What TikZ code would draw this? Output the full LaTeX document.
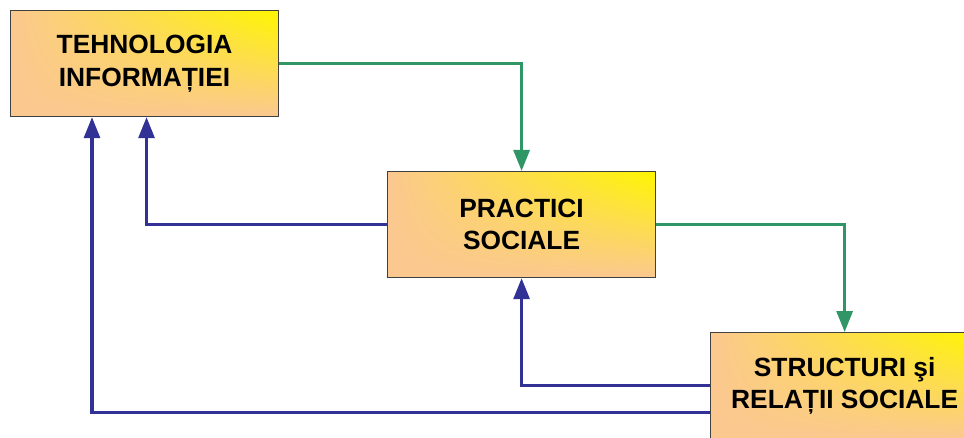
\documentclass[tikz,border=0pt]{standalone}
\usepackage{fontspec}
\setmainfont{Liberation Sans}
\usepackage{tikz}
\usetikzlibrary{positioning}
\usetikzlibrary{arrows.meta, shadings}
\definecolor{boxorange}{RGB}{251,200,144}
\definecolor{boxyellow}{RGB}{255,246,0}
\definecolor{flowgreen}{RGB}{48,150,102}
\definecolor{backblue}{RGB}{50,50,150}

\begin{document}
\begin{tikzpicture}[
        box/.style={draw=black!75, line width=0.6pt, upper right=boxyellow, upper left=boxorange,
                    lower left=boxorange, lower right=boxorange, minimum width=5.36cm,
                    minimum height=2.12cm, align=center, inner sep=0pt,
                    font=\fontsize{15}{18.5}\selectfont\bfseries},
        fwd/.style={draw=flowgreen, line width=2pt, -{Triangle[width=9pt,length=12pt]}},
        bck/.style={draw=backblue, line width=2pt, -{Triangle[width=9pt,length=12pt]}}]
                \clip (0,0) rectangle (19.28,-8.74);
                \node[box, anchor=north west] (tech) at (0.2,-0.2) {TEHNOLOGIA\\INFORMAȚIEI};
                \node[box, below right=1.08cm and 2.16cm of tech] (prac) {PRACTICI\\SOCIALE};
                \node[box, below right=1.08cm and 1.08cm of prac] (struct) {STRUCTURI şi\\RELAȚII SOCIALE};
                \draw[fwd] (tech.east) -| (prac.north);
                \draw[fwd] (prac.east) -| (struct.north);
                \draw[bck] (prac.west) -| ([xshift=0.04cm]tech.south);
                \draw[bck] (struct.west) -| (prac.south);
                %\draw[bck] (struct.south west) -| (tech.south west);
                \draw[bck] ([yshift=-0.54cm]struct.west) -| ([xshift=1.64cm]tech.south west);
            \end{tikzpicture}
\end{document}
